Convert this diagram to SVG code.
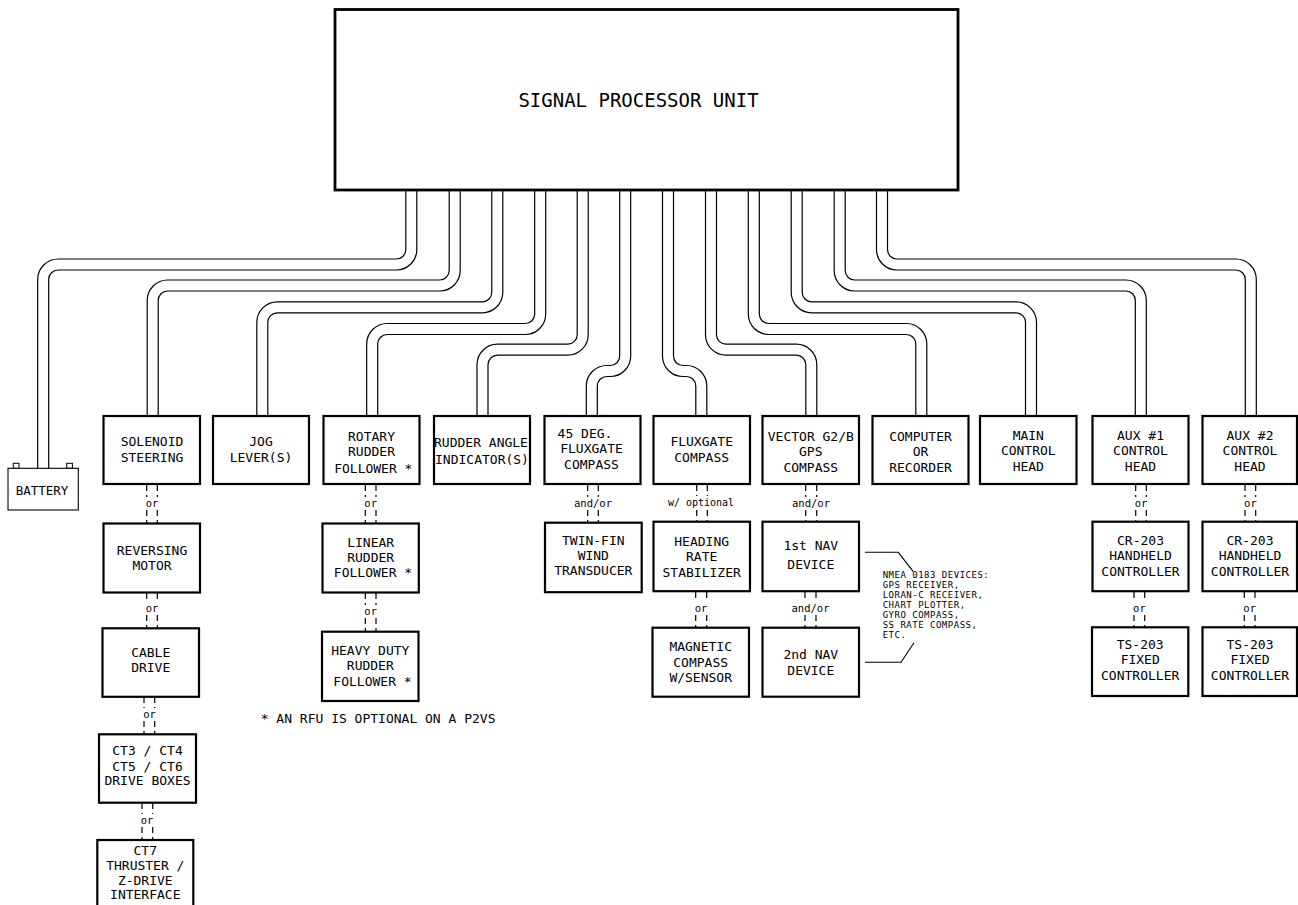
<svg xmlns="http://www.w3.org/2000/svg" xmlns:xlink="http://www.w3.org/1999/xlink" width="1298" height="905" viewBox="0 0 1298 905">
<style>
.bx{fill:#fff;stroke:#000;stroke-width:2.2}
.t{font-family:"DejaVu Sans Mono","Liberation Mono",monospace;font-size:13px;fill:#000;text-anchor:middle}
.big{font-family:"DejaVu Sans Mono","Liberation Mono",monospace;font-size:19px;fill:#000;text-anchor:middle}
.s{font-family:"DejaVu Sans Mono","Liberation Mono",monospace;font-size:10.5px;fill:#000;text-anchor:middle}
.n{font-family:"DejaVu Sans Mono","Liberation Mono",monospace;font-size:9px;letter-spacing:0.5px;fill:#000}
.fn{font-family:"DejaVu Sans Mono","Liberation Mono",monospace;font-size:13px;fill:#000}
.co{fill:none;stroke:#000;stroke-width:12.2}
.ci{fill:none;stroke:#fff;stroke-width:9.8}
.d{stroke:#000;stroke-width:1.2;stroke-dasharray:6,4;fill:none}
.ld{fill:none;stroke:#000;stroke-width:1.1}
</style>
<defs>
<path id="c1" d="M411.3,189 V249.5 A15,15 0 0 1 396.3,264.5 H58.2 A15,15 0 0 0 43.2,279.5 V468.3"/>
<path id="c2" d="M454.7,189 V270.5 A15,15 0 0 1 439.7,285.5 H167.7 A15,15 0 0 0 152.7,300.5 V416"/>
<path id="c3" d="M497.3,189 V292.3 A15,15 0 0 1 482.3,307.3 H277.3 A15,15 0 0 0 262.3,322.3 V416"/>
<path id="c4" d="M540.2,189 V314 A15,15 0 0 1 525.2,329 H387.2 A15,15 0 0 0 372.2,344 V416"/>
<path id="c5" d="M582.7,189 V334.7 A15,15 0 0 1 567.7,349.7 H497.5 A15,15 0 0 0 482.5,364.7 V416"/>
<path id="c6" d="M625.2,189 V356 A15,15 0 0 1 610.2,371 H606.8 A15,15 0 0 0 591.8,386 V416"/>
<path id="c7" d="M668,189 V356 A15,15 0 0 0 683,371 H686.3 A15,15 0 0 1 701.3,386 V416"/>
<path id="c8" d="M711,189 V334.7 A15,15 0 0 0 726,349.7 H796.3 A15,15 0 0 1 811.3,364.7 V416"/>
<path id="c9" d="M753.8,189 V314 A15,15 0 0 0 768.8,329 H906.3 A15,15 0 0 1 921.3,344 V416"/>
<path id="c10" d="M796.7,189 V292.3 A15,15 0 0 0 811.7,307.3 H1016 A15,15 0 0 1 1031,322.3 V416"/>
<path id="c11" d="M839.7,189 V270.5 A15,15 0 0 0 854.7,285.5 H1125.8 A15,15 0 0 1 1140.8,300.5 V416"/>
<path id="c12" d="M882,189 V249.5 A15,15 0 0 0 897,264.5 H1235.8 A15,15 0 0 1 1250.8,279.5 V416"/>
</defs>
<rect width="1298" height="905" fill="#fff"/>
<g id="connectors">
<g class="co">
<use xlink:href="#c1"/><use xlink:href="#c2"/><use xlink:href="#c3"/><use xlink:href="#c4"/><use xlink:href="#c5"/><use xlink:href="#c6"/><use xlink:href="#c7"/><use xlink:href="#c8"/><use xlink:href="#c9"/><use xlink:href="#c10"/><use xlink:href="#c11"/><use xlink:href="#c12"/>
</g>
<g class="ci">
<use xlink:href="#c1"/><use xlink:href="#c2"/><use xlink:href="#c3"/><use xlink:href="#c4"/><use xlink:href="#c5"/><use xlink:href="#c6"/><use xlink:href="#c7"/><use xlink:href="#c8"/><use xlink:href="#c9"/><use xlink:href="#c10"/><use xlink:href="#c11"/><use xlink:href="#c12"/>
</g>
<g class="d">
<path d="M146.7,485 V497 M157.3,485 V497 M146.7,510 V523 M157.3,510 V523"/>
<path d="M146.7,593 V602 M157.3,593 V602 M146.7,615 V628 M157.3,615 V628"/>
<path d="M144,697 V708 M154.7,697 V708 M144,721 V734 M154.7,721 V734"/>
<path d="M142,803 V814 M152.7,803 V814 M142,827 V840 M152.7,827 V840"/>
<path d="M365.3,485 V497 M376,485 V497 M365.3,510 V523 M376,510 V523"/>
<path d="M365.3,593 V605 M376,593 V605 M365.3,618 V631 M376,618 V631"/>
<path d="M587.7,485 V497 M598.3,485 V497 M587.7,510 V522 M598.3,510 V522"/>
<path d="M696.7,485 V496 M707.3,485 V496 M696.7,510 V521 M707.3,510 V521"/>
<path d="M695.7,592 V602 M706.7,592 V602 M695.7,615 V627 M706.7,615 V627"/>
<path d="M805.7,485 V497 M816.7,485 V497 M805.7,510 V521 M816.7,510 V521"/>
<path d="M805,592 V602 M816,592 V602 M805,615 V627 M816,615 V627"/>
<path d="M1135.7,485 V497 M1146.3,485 V497 M1135.7,510 V521 M1146.3,510 V521"/>
<path d="M1134,592 V602 M1144.7,592 V602 M1134,615 V627 M1144.7,615 V627"/>
<path d="M1245,485 V497 M1255.7,485 V497 M1245,510 V521 M1255.7,510 V521"/>
<path d="M1244.3,592 V602 M1255,592 V602 M1244.3,615 V627 M1255,615 V627"/>
</g>
<g class="s">
<text x="152" y="507">or</text>
<text x="152" y="612.3">or</text>
<text x="149.5" y="718">or</text>
<text x="147" y="823.7">or</text>
<text x="370.7" y="507">or</text>
<text x="370.7" y="614.7">or</text>
<text x="593" y="507">and/or</text>
<text x="701" y="506.3" style="font-size:10px">w/ optional</text>
<text x="701" y="612.3">or</text>
<text x="811" y="506.7">and/or</text>
<text x="810.5" y="612.3">and/or</text>
<text x="1141" y="507">or</text>
<text x="1139.4" y="612.3">or</text>
<text x="1250.4" y="507">or</text>
<text x="1249.7" y="612.3">or</text>
</g>
<polyline class="ld" points="865,552.3 898.3,552.3 913.3,571.7"/>
<polyline class="ld" points="865,662.3 901,662.3 914,642.7"/>
</g>
<g id="spu"><rect x="335" y="9.5" width="623" height="180.5" style="fill:#fff;stroke:#000;stroke-width:2.8"/><text class="big" x="638.5" y="107">SIGNAL PROCESSOR UNIT</text></g>
<g id="battery">
<rect x="13.3" y="463.3" width="5.7" height="5" fill="#fff" stroke="#000" stroke-width="1"/>
<rect x="66.7" y="463.3" width="5.7" height="5" fill="#fff" stroke="#000" stroke-width="1"/>
<rect x="8" y="468.3" width="70.3" height="41.7" fill="#fff" stroke="#000" stroke-width="1.1"/>
<text class="t" x="42" y="495.2" style="font-size:12.5px">BATTERY</text>
</g>
<g id="solenoid"><rect class="bx" x="103.5" y="416" width="96.5" height="68"/><text class="t" x="152" y="446.4">SOLENOID</text><text class="t" x="152" y="462">STEERING</text></g>
<g id="jog"><rect class="bx" x="213" y="416" width="96" height="68"/><text class="t" x="261" y="446.4">JOG</text><text class="t" x="261" y="462">LEVER(S)</text></g>
<g id="rotary"><rect class="bx" x="323.5" y="416" width="96" height="68"/><text class="t" x="371.5" y="440.7">ROTARY</text><text class="t" x="371.5" y="456.4">RUDDER</text><text class="t" x="373.3" y="472.7">FOLLOWER *</text></g>
<g id="rudderangle"><rect class="bx" x="434" y="416" width="96" height="68"/><text class="t" x="481" y="447">RUDDER ANGLE</text><text class="t" x="482" y="463.7">INDICATOR(S)</text></g>
<g id="fg45"><rect class="bx" x="544.5" y="416" width="96" height="68"/><text class="t" x="585" y="438">45 DEG.</text><text class="t" x="591.5" y="453.4">FLUXGATE</text><text class="t" x="591.5" y="468.7">COMPASS</text></g>
<g id="fluxgate"><rect class="bx" x="653.5" y="416" width="96.5" height="68"/><text class="t" x="701.7" y="445.7">FLUXGATE</text><text class="t" x="701.7" y="462">COMPASS</text></g>
<g id="vector"><rect class="bx" x="762.5" y="416" width="96.5" height="68"/><text class="t" x="810.8" y="440.7">VECTOR G2/B</text><text class="t" x="810.8" y="456.4">GPS</text><text class="t" x="810.8" y="472">COMPASS</text></g>
<g id="computer"><rect class="bx" x="872.5" y="416" width="96" height="68"/><text class="t" x="920.5" y="441.4">COMPUTER</text><text class="t" x="920.5" y="456.4">OR</text><text class="t" x="920.5" y="472">RECORDER</text></g>
<g id="maincontrol"><rect class="bx" x="980" y="416" width="96.5" height="68"/><text class="t" x="1028.3" y="439.7">MAIN</text><text class="t" x="1028.3" y="455.4">CONTROL</text><text class="t" x="1028.3" y="471.4">HEAD</text></g>
<g id="aux1"><rect class="bx" x="1092.5" y="416" width="96" height="68"/><text class="t" x="1140.5" y="439.7">AUX #1</text><text class="t" x="1140.5" y="455.4">CONTROL</text><text class="t" x="1140.5" y="470.7">HEAD</text></g>
<g id="aux2"><rect class="bx" x="1202.5" y="416" width="94.5" height="68"/><text class="t" x="1250" y="439.7">AUX #2</text><text class="t" x="1250" y="455.4">CONTROL</text><text class="t" x="1250" y="470.7">HEAD</text></g>
<g id="reversing"><rect class="bx" x="103.5" y="523.5" width="96.5" height="69"/><text class="t" x="152" y="554.7">REVERSING</text><text class="t" x="152" y="569.7">MOTOR</text></g>
<g id="linear"><rect class="bx" x="322.5" y="523.5" width="96.3" height="69"/><text class="t" x="370.7" y="547">LINEAR</text><text class="t" x="370.7" y="562.4">RUDDER</text><text class="t" x="373" y="577.4">FOLLOWER *</text></g>
<g id="twinfin"><rect class="bx" x="545" y="522.7" width="96.7" height="69.5"/><text class="t" x="593.3" y="544.7">TWIN-FIN</text><text class="t" x="593.3" y="559.7">WIND</text><text class="t" x="593.3" y="575.4">TRANSDUCER</text></g>
<g id="heading"><rect class="bx" x="653.5" y="521.7" width="96.5" height="69.5"/><text class="t" x="701.7" y="546.4">HEADING</text><text class="t" x="701.7" y="561.4">RATE</text><text class="t" x="701.7" y="577.4">STABILIZER</text></g>
<g id="nav1"><rect class="bx" x="762.5" y="521.7" width="96.5" height="69.5"/><text class="t" x="810.8" y="550.4">1st NAV</text><text class="t" x="810.8" y="568.7">DEVICE</text></g>
<g id="cr1"><rect class="bx" x="1092.5" y="521.7" width="96" height="69.5"/><text class="t" x="1140.5" y="545.4">CR-203</text><text class="t" x="1140.5" y="560.4">HANDHELD</text><text class="t" x="1140.5" y="576.4">CONTROLLER</text></g>
<g id="cr2"><rect class="bx" x="1202.5" y="521.7" width="94.5" height="69.5"/><text class="t" x="1250" y="545.4">CR-203</text><text class="t" x="1250" y="560.4">HANDHELD</text><text class="t" x="1250" y="576.4">CONTROLLER</text></g>
<g id="cabledrive"><rect class="bx" x="102.5" y="628.3" width="96.5" height="68.5"/><text class="t" x="150.7" y="657">CABLE</text><text class="t" x="150.7" y="672.4">DRIVE</text></g>
<g id="heavyduty"><rect class="bx" x="322" y="631.7" width="96.5" height="69.3"/><text class="t" x="370.3" y="654.7">HEAVY DUTY</text><text class="t" x="370.3" y="670.4">RUDDER</text><text class="t" x="372.5" y="686.4">FOLLOWER *</text></g>
<g id="magnetic"><rect class="bx" x="652.5" y="627.7" width="96.5" height="69"/><text class="t" x="700.7" y="651.4">MAGNETIC</text><text class="t" x="700.7" y="667">COMPASS</text><text class="t" x="700.7" y="682">W/SENSOR</text></g>
<g id="nav2"><rect class="bx" x="762.5" y="627.7" width="96.5" height="69"/><text class="t" x="810.8" y="658.7">2nd NAV</text><text class="t" x="810.8" y="674.7">DEVICE</text></g>
<g id="ts1"><rect class="bx" x="1092" y="627.3" width="96.3" height="68.7"/><text class="t" x="1140.2" y="648.7">TS-203</text><text class="t" x="1140.2" y="664">FIXED</text><text class="t" x="1140.2" y="679.7">CONTROLLER</text></g>
<g id="ts2"><rect class="bx" x="1202.5" y="627.3" width="94.5" height="68.7"/><text class="t" x="1250" y="648.7">TS-203</text><text class="t" x="1250" y="664">FIXED</text><text class="t" x="1250" y="679.7">CONTROLLER</text></g>
<g id="ct3"><rect class="bx" x="99" y="734.3" width="97" height="68.4"/><text class="t" x="147.5" y="754.7">CT3 / CT4</text><text class="t" x="147.5" y="770.7">CT5 / CT6</text><text class="t" x="147.5" y="785.4">DRIVE BOXES</text></g>
<g id="ct7"><rect class="bx" x="97.3" y="840" width="96" height="75"/><text class="t" x="145.3" y="854.7">CT7</text><text class="t" x="145.3" y="869.7">THRUSTER /</text><text class="t" x="145.3" y="885.4">Z-DRIVE</text><text class="t" x="145.3" y="898.7">INTERFACE</text></g>
<g id="nmea">
<text class="n" x="882.7" y="578.3">NMEA 0183 DEVICES:</text>
<text class="n" x="882.7" y="588.3">GPS RECEIVER,</text>
<text class="n" x="882.7" y="598.3">LORAN-C RECEIVER,</text>
<text class="n" x="882.7" y="608.3">CHART PLOTTER,</text>
<text class="n" x="882.7" y="618.3">GYRO COMPASS,</text>
<text class="n" x="882.7" y="628.3">SS RATE COMPASS,</text>
<text class="n" x="882.7" y="638.3">ETC.</text>
</g>
<g id="footnote"><text class="fn" x="260.7" y="723">* AN RFU IS OPTIONAL ON A P2VS</text></g>
</svg>
